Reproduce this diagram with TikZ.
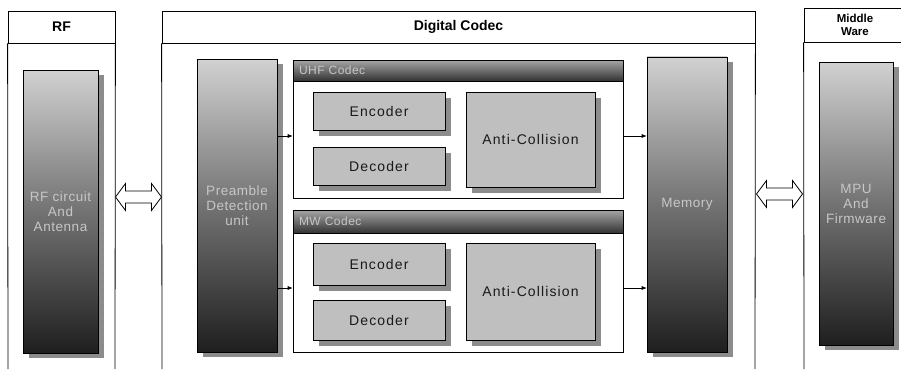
\documentclass[tikz,border=0pt]{standalone}
\usepackage{fontspec}
\setmainfont{Liberation Sans}
\usetikzlibrary{shadows,arrows.meta}
\begin{document}
\begin{tikzpicture}[x=1pt,y=-1pt,
  frameline/.style={draw=black,line width=0.8pt},
  headbox/.style={draw=black,line width=0.8pt,fill=white,minimum height=32pt,inner sep=0pt,font=\bfseries\fontsize{14}{15}\selectfont},
  tallbox/.style={draw=black,line width=0.6pt,inner sep=0pt,align=center,
    top color=black!18,bottom color=black!88,middle color=black!55,
    text=black!22,font=\fontsize{13.5}{15}\selectfont\addfontfeature{LetterSpace=4},
    drop shadow={shadow xshift=6pt,shadow yshift=-5pt,fill=black!45,opacity=1}},
  smallbox/.style={draw=black,line width=0.6pt,inner sep=0pt,fill=black!25,
    font=\fontsize{14}{15}\selectfont\addfontfeature{LetterSpace=8},text=black!90,
    drop shadow={shadow xshift=6pt,shadow yshift=-6pt,fill=black!45,opacity=1}},
  codecbox/.style={draw=black,line width=0.6pt,fill=white,inner sep=0pt},
  codechead/.style={draw=black,line width=0.6pt,inner xsep=6pt,inner ysep=0pt,anchor=north west,
    text width=318pt,align=left,
    top color=black!35,bottom color=black!80,
    font=\fontsize{12}{13}\selectfont\addfontfeature{LetterSpace=4},text=black!22},
  conn/.style={draw=black,line width=0.6pt,-{Latex[length=5pt,width=4pt]}},
  dblarrow/.style={draw=black,line width=0.8pt,fill=white,line join=miter},
  dbl/.pic={\path[dblarrow] (-23,0) -- (-13,-13.5) -- (-13,-6) -- (13,-6) -- (13,-13.5)
      -- (23,0) -- (13,13.5) -- (13,6) -- (-13,6) -- (-13,13.5) -- cycle;}
]
\useasboundingbox (0,0) rectangle (901,369);
\fill[white] (0,0) rectangle (901,369);

% ---------- column frames ----------
\node[headbox,minimum width=107pt] (rfh) at (61.5,27) {RF};
\draw[frameline] (rfh.south west) -- (8,369);
\draw[frameline] (rfh.south east) -- (115,369);

\node[headbox,minimum width=593pt] (dch) at (458.5,27) {Digital Codec};
\draw[frameline] (dch.south west) -- (162,369);
\draw[frameline] (dch.south east) -- (755,369);

\node[headbox,minimum width=102pt,align=center,font=\bfseries\fontsize{11.5}{12.5}\selectfont,minimum height=34pt] (mwh) at (855,25) {Middle\\Ware};
\draw[frameline] (mwh.south west) -- (804,369);

% ---------- tall blocks ----------
\node[tallbox,minimum width=75pt,minimum height=283pt] (rfc) at (60.5,211.5) {RF circuit\\And\\Antenna};
\node[tallbox,minimum width=80pt,minimum height=293pt] (pre) at (237,205.5) {Preamble\\Detection\\unit};
\node[tallbox,minimum width=80pt,minimum height=295pt] (mem) at (687,204.5) {Memory};
\node[tallbox,minimum width=74pt,minimum height=283pt] (mpu) at (856,203.5) {MPU\\And\\Firmware};

% ---------- UHF codec ----------
\node[codecbox,minimum width=330pt,minimum height=138pt] (uhf) at (458,129) {};
\node[codechead,minimum height=21pt] (uhfh) at (uhf.north west) {UHF Codec};
\node[smallbox,minimum width=132pt,minimum height=38pt] (enc1) at (379,111) {Encoder};
\node[smallbox,minimum width=132pt,minimum height=38pt] (dec1) at (379,166) {Decoder};
\node[smallbox,minimum width=129pt,minimum height=95pt] (anti1) at (530.5,139.5) {Anti-Collision};

% ---------- MW codec ----------
\node[codecbox,minimum width=330pt,minimum height=142pt] (mw) at (458,281) {};
\node[codechead,minimum height=23pt] (mwhd) at (mw.north west) {MW Codec};
\node[smallbox,minimum width=132pt,minimum height=42pt] (enc2) at (379,264) {Encoder};
\node[smallbox,minimum width=132pt,minimum height=40pt] (dec2) at (379,320) {Decoder};
\node[smallbox,minimum width=129pt,minimum height=97pt] (anti2) at (530.5,291.5) {Anti-Collision};

% ---------- connectors ----------
\coordinate (r1) at (0,136);
\coordinate (r2) at (0,288);
\draw[conn] (pre.east |- r1) -- (uhf.west |- r1);
\draw[conn] (pre.east |- r2) -- (mw.west |- r2);
\draw[conn] (uhf.east |- r1) -- (mem.west |- r1);
\draw[conn] (mw.east |- r2) -- (mem.west |- r2);

% ---------- double arrows ----------
\coordinate (la) at (138.5,197);
\coordinate (ra) at (779.5,194);
\pic at (la) {dbl};
\pic at (ra) {dbl};
\end{tikzpicture}
\end{document}
